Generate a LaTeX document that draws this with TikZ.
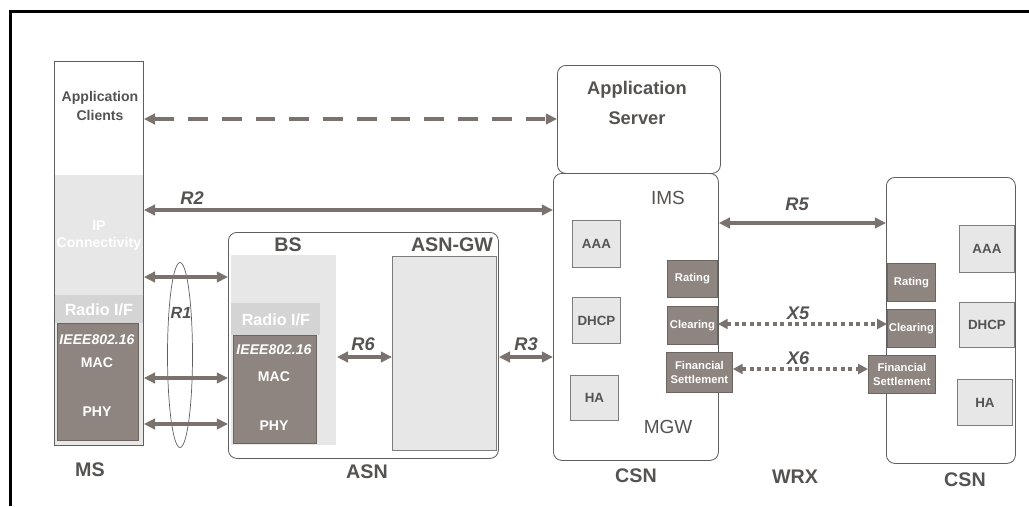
\documentclass[tikz,border=0pt]{standalone}
\usepackage{fontspec}
\setmainfont{Liberation Sans}
\usetikzlibrary{arrows.meta,shapes.geometric,positioning,calc}
\definecolor{txc}{RGB}{85,83,82}
\definecolor{arrc}{RGB}{122,114,110}
\definecolor{dkf}{RGB}{142,132,128}
\definecolor{dkb}{RGB}{108,100,97}
\definecolor{lgf}{RGB}{231,231,231}
\definecolor{lgb}{RGB}{125,125,125}
\definecolor{rfg}{RGB}{212,212,212}
\definecolor{edg}{RGB}{95,95,95}
\tikzset{
  sz/.style 2 args={minimum width=#1*0.025cm,minimum height=#2*0.025cm},
  bx/.style={rectangle,draw=edg,line width=0.6pt,anchor=north west,inner sep=0pt},
  rbx/.style={bx,rounded corners=6pt},
  lg/.style={bx,fill=lgf,draw=none},
  dk/.style={bx,fill=dkf,draw=dkb,text=white,align=center,
    font=\fontsize{8}{9.5}\selectfont\bfseries},
  sm/.style={bx,fill=lgf,draw=lgb,text=txc,
    font=\fontsize{9.5}{11}\selectfont\bfseries},
  wt/.style={text=white,font=\fontsize{10}{12}\selectfont\bfseries},
  lbl/.style={text=txc,font=\fontsize{14}{16}\selectfont\bfseries},
  rl/.style={text=txc,font=\fontsize{13}{15}\selectfont\bfseries\itshape},
  arr/.style={{Triangle[length=8pt,width=7.5pt]}-{Triangle[length=8pt,width=7.5pt]},
    line width=2.6pt,draw=arrc},
  darr/.style={arr,dash pattern=on 14pt off 10pt},
  xarr/.style={{Triangle[length=7pt,width=7pt]}-{Triangle[length=7pt,width=7pt]},
    line width=2.3pt,draw=arrc,dash pattern=on 2.8pt off 2.6pt},
}
\begin{document}
\begin{tikzpicture}[x=0.025cm,y=-0.025cm]
  \useasboundingbox (0,0) rectangle (1029,506);
  \draw[line width=2.2pt] (10.5,506) -- (10.5,11.5) -- (1029,11.5);

  % MS column
  \node[lg,sz={89}{120}] (msip) at (54,175) {};
  \node[wt,align=center] at (msip.center) {IP\\Connectivity};
  \node[lg,fill=rfg,sz={89}{28}] (msrf) at (54,295) {};
  \node[wt,font=\fontsize{11.5}{13}\selectfont\bfseries] at (msrf.center) {Radio I/F};
  \node[lg,fill=lgf,sz={89}{123}] (msfill) at (54,323) {};
  \node[dk,sz={81}{117}] (msl2) at (57,323) {};
  \node[wt,font=\fontsize{10}{12}\selectfont\bfseries\itshape] at (97,340) {IEEE802.16};
  \node[wt] at (97,363) {MAC};
  \node[wt] at (97,412) {PHY};
  \node[bx,sz={89}{384}] (ms) at (54,61) {};
  \node[text=txc,align=center,font=\fontsize{10}{13}\selectfont\bfseries] (appc) at (100,106) {Application\\Clients};
  \node[lbl] (mslbl) at (90,470) {MS};

  % ASN
  \node[rbx,sz={270}{226}] (asn) at (228,232) {};
  \node[lg,sz={105}{190}] (bs) at (231,255) {};
  \node[lg,fill=rfg,sz={89}{32}] (bsrf) at (231,303) {};
  \node[wt,font=\fontsize{11.5}{13}\selectfont\bfseries] at (bsrf.center) {Radio I/F};
  \node[dk,sz={83}{108}] (bsl2) at (233,335) {};
  \node[wt,font=\fontsize{10}{12}\selectfont\bfseries\itshape] at (274,350) {IEEE802.16};
  \node[wt] at (274,377) {MAC};
  \node[wt] at (274,426) {PHY};
  \node[bx,fill=lgf,draw=lgb,sz={104}{194}] (gw) at (392,256) {};
  \node[lbl] (bslbl) at (288,245) {BS};
  \node[lbl] (gwlbl) at (452,245) {ASN-GW};
  \node[lbl] (asnlbl) at (367,472) {ASN};

  % CSN (home)
  \node[rbx,sz={163}{108}] (appsrv) at (557,65) {};
  \node[text=txc,align=center,font=\fontsize{13}{21}\selectfont\bfseries] at (637,103) {Application\\Server};
  \node[rbx,sz={165}{287}] (csna) at (553,173) {};
  \node[text=txc,font=\fontsize{13.5}{15}\selectfont] (ims) at (668,198) {IMS};
  \node[text=txc,font=\fontsize{13.5}{15}\selectfont] (mgw) at (668,427) {MGW};
  \node[sm,sz={48}{47}] (aaa1) at (572,220) {AAA};
  \node[sm,sz={48}{46}] (dhcp1) at (572,297) {DHCP};
  \node[sm,sz={48}{45}] (ha1) at (570,375) {HA};
  \node[dk,sz={50}{37}] (rate1) at (667,260) {Rating};
  \node[dk,sz={50}{38}] (clr1) at (667,306) {Clearing};
  \node[dk,sz={66}{40}] (fin1) at (666,352) {Financial\\Settlement};
  \node[lbl] (csnlbl) at (636,476) {CSN};

  % CSN (visited)
  \node[rbx,sz={129}{286}] (csnb) at (886,177) {};
  \node[dk,sz={48}{38}] (rate2) at (887,263) {Rating};
  \node[dk,sz={48}{38}] (clr2) at (887,309) {Clearing};
  \node[dk,sz={67}{38}] (fin2) at (868,355) {Financial\\Settlement};
  \node[sm,sz={55}{47}] (aaa2) at (959,225) {AAA};
  \node[sm,sz={55}{45}] (dhcp2) at (959,302) {DHCP};
  \node[sm,sz={55}{46}] (ha2) at (957,379) {HA};
  \node[lbl] (csnlbl2) at (965,480) {CSN};
  \node[lbl] (wrxlbl) at (795,477) {WRX};

  % reference points
  \coordinate (yapp) at (0,119);
  \coordinate (yr2) at (0,210);
  \coordinate (yr1a) at (0,277);
  \coordinate (yr1b) at (0,378);
  \coordinate (yr1c) at (0,424);
  \coordinate (yr6) at (0,357);
  \coordinate (yr5) at (0,223);
  \coordinate (yx5) at (0,324);
  \coordinate (yx6) at (0,369);

  % R1 bundle
  \node[ellipse,draw=edg,line width=0.5pt,sz={25}{185}] (r1e) at (180,355) {};
  \node[rl,font=\fontsize{11.5}{13}\selectfont\bfseries\itshape] (r1) at (181,313) {R1};

  % links
  \draw[darr] (ms.east |- yapp) -- (appsrv.west |- yapp);
  \draw[arr] (ms.east |- yr2) -- (csna.west |- yr2);
  \node[rl] (r2) at (192,198) {R2};
  \draw[arr] (ms.east |- yr1a) -- (asn.west |- yr1a);
  \draw[arr] (ms.east |- yr1b) -- (asn.west |- yr1b);
  \draw[arr] (ms.east |- yr1c) -- (asn.west |- yr1c);
  \draw[arr] (bs.east |- yr6) -- (gw.west |- yr6);
  \node[rl] (r6) at (363,344) {R6};
  \draw[arr] (asn.east |- yr6) -- (csna.west |- yr6);
  \node[rl] (r3) at (526,344) {R3};
  \draw[arr] (csna.east |- yr5) -- (csnb.west |- yr5);
  \node[rl] (r5) at (797,204) {R5};
  \draw[xarr] (clr1.east |- yx5) -- (clr2.west |- yx5);
  \node[rl] (x5) at (798,313) {X5};
  \draw[xarr] (fin1.east |- yx6) -- (fin2.west |- yx6);
  \node[rl] (x6) at (798,358) {X6};
\end{tikzpicture}
\end{document}
